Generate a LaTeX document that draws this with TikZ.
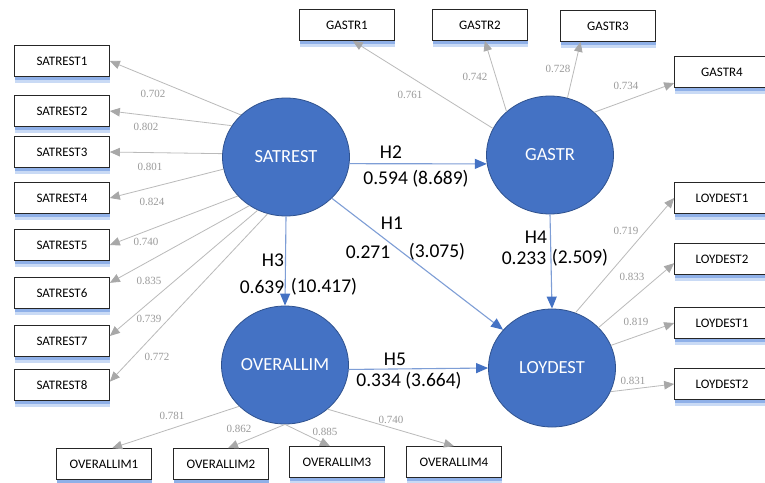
\documentclass[tikz,border=0pt]{standalone}
\usepackage{fontspec}
\setmainfont{Carlito}
\newfontfamily\loadfont{Liberation Serif}
\usetikzlibrary{arrows.meta,shapes.geometric,positioning,calc,shadows}

\definecolor{latentblue}{HTML}{4472C4}
\definecolor{latentrim}{HTML}{2F528F}
\definecolor{pathline}{HTML}{7E9ED6}
\definecolor{loadgray}{HTML}{BABABA}
\definecolor{loadtip}{HTML}{A8A8A8}
\definecolor{loadtext}{HTML}{9A9A9A}
\definecolor{glowblue}{HTML}{8FB0E8}
\definecolor{glowpale}{HTML}{C9DAF5}

\begin{document}
\begin{tikzpicture}[
    x=1pt, y=-1pt,
    >=Stealth,
    latent/.style={draw=latentrim, line width=0.8pt, fill=latentblue, ellipse, minimum width=127pt, minimum height=118pt, inner sep=0pt, text=white, font=\fontsize{18.5}{20}\selectfont},
    item/.style={draw=black!85, line width=0.7pt, fill=white, rectangle, minimum width=95pt, minimum height=31pt, inner sep=0pt, font=\fontsize{13}{15}\selectfont,
        preaction={draw=none, fill=glowpale, transform canvas={yshift=-6pt}},
        preaction={draw=none, fill=glowblue, transform canvas={yshift=-3.5pt}}},
    loading/.style={draw=loadgray, line width=0.8pt, -{Triangle[length=10pt, width=8.5pt, color=loadtip]}},
    hyp/.style={draw=pathline, line width=1.1pt, -{Triangle[length=12pt, width=10pt, color=latentblue]}},
    ld/.style={text=loadtext, font=\loadfont\fontsize{11}{12}\selectfont},
    hl/.style={font=\fontsize{19.5}{22}\selectfont}
]

    \fill[white] (0,0) rectangle (765,482);
    \useasboundingbox (0,0) rectangle (765,482);

    % latent constructs
    \node[latent] (sat) at (286,157) {SATREST};
    \node[latent] (gas) at (550,155) {GASTR};
    \node[latent] (ov)  at (285,365) {OVERALLIM};
    \node[latent] (loy) at (552,368) {LOYDEST};

    % indicators
    \node[item] (s1) at (62,61)  {SATREST1};
    \node[item] (s2) at (62,111) {SATREST2};
    \node[item] (s3) at (62,152) {SATREST3};
    \node[item] (s4) at (62,198) {SATREST4};
    \node[item] (s5) at (62,245) {SATREST5};
    \node[item] (s6) at (62,293) {SATREST6};
    \node[item] (s7) at (62,341) {SATREST7};
    \node[item] (s8) at (62,385) {SATREST8};

    \node[item] (g1) at (347,25) {GASTR1};
    \node[item] (g2) at (480,25) {GASTR2};
    \node[item] (g3) at (608,26) {GASTR3};
    \node[item] (g4) at (722,72) {GASTR4};

    \node[item] (d1) at (722,198) {LOYDEST1};
    \node[item] (d2) at (722,259) {LOYDEST2};
    \node[item] (d3) at (722,323) {LOYDEST1};
    \node[item] (d4) at (722,384) {LOYDEST2};

    \node[item] (o1) at (104,464) {OVERALLIM1};
    \node[item] (o2) at (221,464) {OVERALLIM2};
    \node[item] (o3) at (337,462) {OVERALLIM3};
    \node[item] (o4) at (454,462) {OVERALLIM4};

    % outer loadings
    \draw[loading] (sat.137) -- (s1.east);
    \draw[loading] (sat.150) -- (s2.east);
    \draw[loading] (sat.177) -- (s3.east);
    \draw[loading] (sat.191) -- (s4.east);
    \draw[loading] (sat.219) -- (s5.east);
    \draw[loading] (sat.233) -- (s6.12);
    \draw[loading] (sat.242) -- (s7.6);
    \draw[loading] (sat.252) -- (s8.4);

    \draw[loading] (gas.155) -- (g1.-70);
    \draw[loading] (gas.135) -- (g2.-73);
    \draw[loading] (gas.73)  -- (g3.210);
    \draw[loading] (gas.44)  -- (g4.193);

    \draw[loading] (loy.67)  -- (d1.west);
    \draw[loading] (loy.41)  -- (d2.185);
    \draw[loading] (loy.21)  -- (d3.west);
    \draw[loading] (loy.-22) -- (d4.west);

    \draw[loading] (ov.222)  -- (o1.63);
    \draw[loading] (ov.south) -- (o2.66);
    \draw[loading] (ov.south) -- (o3.114);
    \draw[loading] (ov.-46)  -- (o4.north);

    \node[ld] (ls1) at (153,94)  {0.702};
    \node[ld] (ls2) at (146,127) {0.802};
    \node[ld] (ls3) at (150,167) {0.801};
    \node[ld] (ls4) at (152,202) {0.824};
    \node[ld] (ls5) at (146,242) {0.740};
    \node[ld] (ls6) at (149,281) {0.835};
    \node[ld] (ls7) at (149,319) {0.739};
    \node[ld] (ls8) at (157,357) {0.772};

    \node[ld] (lg1) at (410,95) {0.761};
    \node[ld] (lg2) at (475,77) {0.742};
    \node[ld] (lg3) at (558,69) {0.728};
    \node[ld] (lg4) at (626,86) {0.734};

    \node[ld] (ld1) at (626,231) {0.719};
    \node[ld] (ld2) at (632,277) {0.833};
    \node[ld] (ld3) at (636,322) {0.819};
    \node[ld] (ld4) at (633,381) {0.831};

    \node[ld] (lo1) at (172,416) {0.781};
    \node[ld] (lo2) at (239,429) {0.862};
    \node[ld] (lo3) at (325,432) {0.885};
    \node[ld] (lo4) at (391,420) {0.740};

    % structural paths
    \draw[hyp] (sat.-6)   -- (gas.188);
    \draw[hyp] (sat.-42)  -- (loy.142);
    \draw[hyp] (sat.south) -- (ov.north);
    \draw[hyp] (gas.south) -- (loy.north);
    \draw[hyp] (ov.-4)    -- (loy.west);

    \node[hl] (h2)  at (391,152) {H2};
    \node[hl] (h2v) at (416,179) {0.594 (8.689)};
    \node[hl] (h1)  at (392,223) {H1};
    \node[hl] (h1b) at (368,252) {0.271};
    \node[hl] (h1t) at (437,252) {(3.075)};
    \node[hl] (h3)  at (273,260) {H3};
    \node[hl] (h3b) at (262,287) {0.639};
    \node[hl] (h3t) at (324,287) {(10.417)};
    \node[hl] (h4)  at (536,237) {H4};
    \node[hl] (h4b) at (524,258) {0.233};
    \node[hl] (h4t) at (580,258) {(2.509)};
    \node[hl] (h5)  at (395,359) {H5};
    \node[hl] (h5v) at (409,381) {0.334 (3.664)};

\end{tikzpicture}
\end{document}
